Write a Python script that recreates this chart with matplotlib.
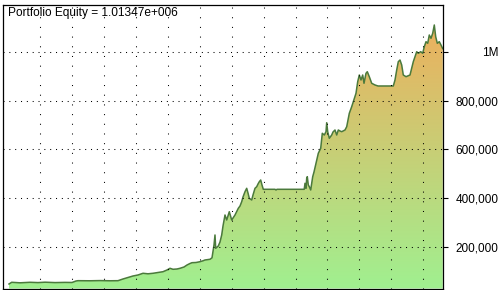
import numpy as np
import matplotlib
matplotlib.use("Agg")
import matplotlib.pyplot as plt
from matplotlib.patches import Polygon

# ---- data (bar number, equity in thousands of $) ----
bars = [0, 27, 110, 210, 290, 360, 460, 560, 630, 670, 690, 810, 910, 1010, 1090,
        1140, 1190, 1240, 1290, 1340, 1390, 1440, 1490, 1540, 1580, 1610, 1640, 1680,
        1710, 1750, 1780, 1810, 1830, 1870, 1910, 1940, 1960, 1990, 2010, 2030, 2040,
        2050, 2060, 2067, 2093, 2110, 2127, 2140, 2160, 2177, 2190, 2203, 2215, 2227,
        2240, 2260, 2293, 2310, 2327, 2340, 2360, 2377, 2390, 2403, 2427, 2440, 2460,
        2477, 2490, 2503, 2517, 2530, 2543, 2660, 2670, 2680, 2943, 2952, 2960, 2970,
        2977, 2983, 2993, 3003, 3017, 3037, 3050, 3070, 3093, 3117, 3133, 3153, 3170,
        3177, 3187, 3203, 3227, 3240, 3260, 3277, 3293, 3310, 3327, 3360, 3377, 3390,
        3403, 3427, 3443, 3470, 3487, 3503, 3520, 3537, 3550, 3570, 3583, 3603, 3627,
        3660, 3690, 3843, 3860, 3877, 3893, 3910, 3927, 3943, 3970, 4010, 4027, 4043,
        4060, 4077, 4093, 4117, 4137, 4153, 4170, 4187, 4203, 4220, 4237, 4253, 4267,
        4283, 4303, 4320, 4337]
equity_k = [46.8, 53.8, 51.7, 53.8, 52.6, 54.2, 52.6, 53.4, 53.0, 59.1, 60.4, 60.0, 60.8, 60.0, 60.4,
            67.4, 73.5, 79.7, 83.8, 90.8, 88.7, 90.8, 94.0, 97.3, 104.3, 111.3, 107.2, 108.4,
            111.3, 116.6, 124.8, 131.0, 134.3, 135.1, 138.4, 142.1, 145.4, 147.4, 148.3, 154.4, 179.5,
            207.0, 248.1, 193.4, 202.9, 219.3, 248.1, 285.0, 330.2, 309.6, 326.1, 343.7, 326.1, 309.6,
            317.9, 330.2, 357.7, 367.1, 384.8, 404.1, 425.9, 439.8, 420.5, 398.8, 391.8, 412.3, 439.8,
            446.4, 457.5, 466.9, 473.9, 453.4, 435.7, 435.7, 432.9, 435.7, 435.7, 435.7, 460.4, 439.8,
            480.9, 487.5, 453.4, 446.4, 432.9, 487.5, 506.8, 542.5, 583.6, 604.1, 665.7, 658.7, 672.3,
            709.2, 672.3, 645.2, 658.7, 671.0, 679.3, 658.7, 679.3, 675.2, 672.3, 679.3, 692.8, 720.3,
            747.8, 775.0, 795.5, 830.0, 877.6, 905.1, 884.6, 905.1, 871.1, 912.1, 918.7, 898.2, 871.1,
            864.1, 860.0, 860.0, 884.6, 925.7, 959.8, 966.7, 946.2, 905.1, 898.2, 905.1, 932.6, 959.8,
            980.3, 1000.8, 994.3, 1000.8, 994.3, 1021.4, 1041.9, 1035.3, 1069.4, 1055.9, 1076.4, 1110.5, 1062.4,
            1035.3, 1041.9, 1028.3, 1013.47]
final_equity = 1.01347e6
y_ticks = [200000, 400000, 600000, 800000, 1000000]
y_tick_labels = ["200,000", "400,000", "600,000", "800,000", "1M"]
title_text = "Portfolio Equity = 1.01347e+006"

x = np.array(bars, dtype=float)
y = np.array(equity_k) * 1000.0

W, H = 504, 290
fig = plt.figure(figsize=(W / 100, H / 100), dpi=100)
fig.patch.set_facecolor("white")
ax = fig.add_axes([3.3 / W, 1 - 288.5 / H, (442.7 - 3.3) / W, (288.5 - 5) / H])

xmin, xmax = -57, 4337
ymin, ymax = 28300, 1192600
ax.set_xlim(xmin, xmax)
ax.set_ylim(ymin, ymax)

# gradient fill clipped to area under the curve
c_bot = np.array([160, 240, 144]) / 255.0
c_top = np.array([236, 176, 94]) / 255.0
n = 256
t = np.linspace(0, 1, n)[:, None]
grad = (c_bot[None, :] * (1 - t) + c_top[None, :] * t)[:, None, :]
peak = y.max()
im = ax.imshow(grad, extent=[xmin, xmax, ymin, peak], origin="lower",
               aspect="auto", interpolation="bilinear", zorder=1)
verts = np.vstack([[x[0], ymin], np.column_stack([x, y]), [x[-1], ymin]])
poly = Polygon(verts, closed=True, facecolor="none", edgecolor="none",
               transform=ax.transData)
ax.add_patch(poly)
im.set_clip_path(poly)
ax.set_xlim(xmin, xmax)
ax.set_ylim(ymin, ymax)

ax.plot(x, y, color="#4b7a3c", lw=1.1, zorder=3)

# grid
gx0 = 310.0
gstep = 319.4
for k in range(13):
    ax.axvline(gx0 + k * gstep, color="black", lw=0.75,
               linestyle=(0, (1, 8.3)), zorder=4)
for v in y_ticks:
    ax.axhline(v, color="black", lw=0.75, linestyle=(0, (1, 4.6)), zorder=4)

ax.set_xticks([])
ax.yaxis.tick_right()
ax.set_yticks(y_ticks)
ax.set_yticklabels(y_tick_labels)
ax.tick_params(axis="y", direction="out", length=3.5, width=0.8, color="black",
               pad=36.5, labelsize=8.5)
for lab in ax.get_yticklabels():
    lab.set_horizontalalignment("right")
    lab.set_fontfamily("Liberation Sans")

for s in ax.spines.values():
    s.set_color("black")
    s.set_linewidth(0.9)
    s.set_zorder(6)

ax.text(0.0107, 0.993, title_text, transform=ax.transAxes, ha="left", va="top",
        fontsize=8.6, fontfamily="Liberation Sans", color="black", zorder=7)

fig.savefig("out.png", dpi=100)
